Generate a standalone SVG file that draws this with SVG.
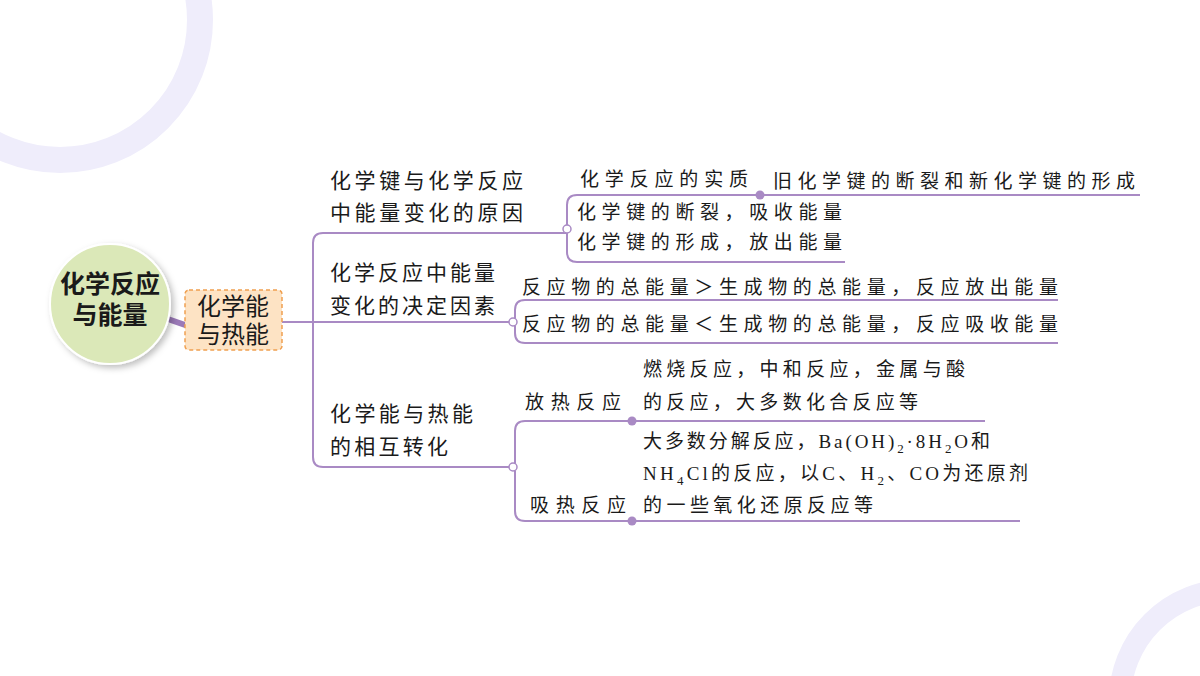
<svg xmlns="http://www.w3.org/2000/svg" width="1200" height="676" viewBox="0 0 1200 676">
<defs>
<style>
.t{font-family:"Noto Sans CJK SC","Liberation Serif",serif;fill:#1a1a1a;}
.m{font-size:21px;}
.s{font-size:19px;}
.ln{fill:none;stroke:#a98ac4;stroke-width:2;}
.dot{fill:#a98ac4;}
.od{fill:#fff;stroke:#a98ac4;stroke-width:1.5;}
</style>
<filter id="sh" x="-20%" y="-20%" width="150%" height="150%"><feDropShadow dx="3" dy="3" stdDeviation="3" flood-color="#000" flood-opacity="0.25"/></filter>
</defs>
<rect width="1200" height="676" fill="#fff"/>
<circle cx="60" cy="20" r="140" fill="none" stroke="#efedfb" stroke-width="26"/>
<circle cx="1230" cy="700" r="110" fill="none" stroke="#efedfb" stroke-width="22"/>
<g id="connectors">
<line x1="165" y1="318" x2="188" y2="326" stroke="#9b7ab8" stroke-width="6"/>
<path class="ln" d="M282 322 H511"/>
<path class="ln" d="M567 233 H323 Q313 233 313 243 V457 Q313 467 323 467 H511"/>
<path class="ln" d="M1140 195 H577 Q567 195 567 205 V252 Q567 262 577 262 H845"/>
<path class="ln" d="M1058 300 H525 Q515 300 515 310 V333 Q515 343 525 343 H1058"/>
<path class="ln" d="M985 421 H525 Q515 421 515 431 V511 Q515 521 525 521 H1020"/>
<circle class="od" cx="567" cy="229" r="4"/>
<circle class="od" cx="513" cy="322" r="4"/>
<circle class="od" cx="513" cy="467" r="4"/>
<circle class="dot" cx="760" cy="195" r="4.5"/>
<circle class="dot" cx="632" cy="421" r="4.5"/>
<circle class="dot" cx="632" cy="521" r="4.5"/>
</g>
<g id="root">
<circle cx="110" cy="304" r="60" fill="#dbe8b8" stroke="#fff" stroke-width="2" filter="url(#sh)"/>
<text class="t" x="110" y="293" font-size="25" font-weight="bold" text-anchor="middle">化学反应</text>
<text class="t" x="110" y="324" font-size="25" font-weight="bold" text-anchor="middle">与能量</text>
</g>
<g id="n1">
<rect x="185" y="290" width="97" height="60" rx="4" fill="#fde3c4" stroke="#f0a050" stroke-width="1.5" stroke-dasharray="4 3"/>
<text class="t" x="233" y="315" font-size="24" text-anchor="middle">化学能</text>
<text class="t" x="233" y="343" font-size="24" text-anchor="middle">与热能</text>
</g>
<g id="b1">
<text class="t m" x="330" y="188" textLength="193">化学键与化学反应</text>
<text class="t m" x="330" y="220" textLength="193">中能量变化的原因</text>
</g>
<g id="b2">
<text class="t m" x="330" y="280" textLength="165">化学反应中能量</text>
<text class="t m" x="330" y="313" textLength="165">变化的决定因素</text>
</g>
<g id="b3">
<text class="t m" x="330" y="421" textLength="143">化学能与热能</text>
<text class="t m" x="330" y="454" textLength="118">的相互转化</text>
</g>
<g id="l1"><text class="t s" x="580" y="186" textLength="168">化学反应的实质</text></g>
<g id="l1a"><text class="t s" x="773" y="188" textLength="362">旧化学键的断裂和新化学键的形成</text></g>
<g id="l2"><text class="t s" x="577" y="219" textLength="265">化学键的断裂，吸收能量</text></g>
<g id="l3"><text class="t s" x="577" y="249" textLength="265">化学键的形成，放出能量</text></g>
<g id="l4"><text class="t s" x="522" y="294" textLength="536">反应物的总能量＞生成物的总能量，反应放出能量</text></g>
<g id="l5"><text class="t s" x="522" y="331" textLength="536">反应物的总能量＜生成物的总能量，反应吸收能量</text></g>
<g id="l6">
<text class="t s" x="525" y="409" textLength="96">放热反应</text>
<text class="t s" x="643" y="376" textLength="322">燃烧反应，中和反应，金属与酸</text>
<text class="t s" x="643" y="409" textLength="275">的反应，大多数化合反应等</text>
</g>
<g id="l7">
<text class="t s" x="530" y="512" textLength="96">吸热反应</text>
<text class="t s" x="643" y="448" textLength="347">大多数分解反应，<tspan font-family="Liberation Serif">Ba(OH)</tspan><tspan font-family="Liberation Serif" font-size="13" dy="5">2</tspan><tspan font-family="Liberation Serif" dy="-5">·8H</tspan><tspan font-family="Liberation Serif" font-size="13" dy="5">2</tspan><tspan font-family="Liberation Serif" dy="-5">O</tspan>和</text>
<text class="t s" x="643" y="480" textLength="385"><tspan font-family="Liberation Serif">NH</tspan><tspan font-family="Liberation Serif" font-size="13" dy="5">4</tspan><tspan font-family="Liberation Serif" dy="-5">Cl</tspan>的反应，以<tspan font-family="Liberation Serif">C</tspan>、<tspan font-family="Liberation Serif">H</tspan><tspan font-family="Liberation Serif" font-size="13" dy="5">2</tspan><tspan dy="-5">、</tspan><tspan font-family="Liberation Serif">CO</tspan>为还原剂</text>
<text class="t s" x="643" y="512" textLength="230">的一些氧化还原反应等</text>
</g>
</svg>
